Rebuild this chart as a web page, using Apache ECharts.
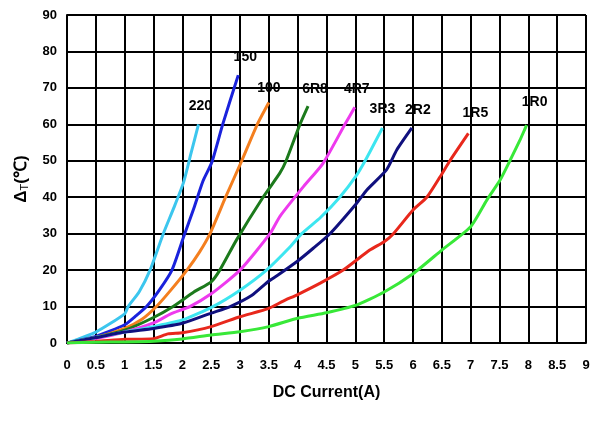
<!DOCTYPE html>
<html><head><meta charset="utf-8">
<script src="https://cdn.jsdelivr.net/npm/echarts@6/dist/echarts.min.js"></script>
<style>html,body{margin:0;padding:0;background:#fff}#c{width:598px;height:425px}</style>
</head><body><div id="c"></div>
<script>
const seriesNames = ['220','150','100','6R8','4R7','3R3','2R2','1R5','1R0'];
const s220 = [[0,0],[0.5,3],[1,8],[1.06,10],[1.25,14],[1.44,20],[1.67,30],[1.85,37],[2.02,44],[2.15,52],[2.28,60]];
const s150 = [[0,0],[0.5,1.8],[1,5],[1.2,7.5],[1.38,10],[1.6,14.5],[1.82,20],[2.02,29],[2.2,37],[2.36,44.5],[2.51,49.5],[2.7,60],[2.97,73.5]];
const s100 = [[0,0],[0.5,1.5],[1,4],[1.3,6.5],[1.55,10],[1.8,14.5],[2.08,20],[2.3,25],[2.48,30],[2.75,40],[3.03,50],[3.3,60],[3.5,66]];
const s6R8 = [[0,0],[0.5,1.5],[1,3.5],[1.5,7],[1.84,10],[2.2,14],[2.5,16.8],[2.65,20],[2.94,28.3],[3.4,40],[3.69,46.6],[3.8,50],[4.04,60],[4.18,65]];
const s4R7 = [[0,0],[0.5,1.2],[1,3],[1.5,5.5],[1.8,8],[2.13,10],[2.5,13.5],[3.0,20],[3.52,30],[3.69,34.7],[4.1,42.9],[4.44,49.3],[4.82,60],[4.99,64.7]];
const s3R3 = [[0,0],[0.5,1.5],[1,3],[1.5,4.5],[2,6.3],[2.53,10],[3,14.5],[3.46,20],[3.87,26.4],[4.07,30],[4.4,34.5],[4.73,40],[5.02,46],[5.17,50],[5.47,59]];
const s2R2 = [[0,0],[0.5,1.5],[1,3],[1.5,4],[2,5.4],[2.5,8.2],[2.83,10],[3.2,13],[3.5,17],[3.69,19],[4,22.5],[4.27,26],[4.56,30],[5.02,38.3],[5.2,42],[5.54,47.5],[5.72,53],[5.98,59]];
const s1R5 = [[0,0],[0.5,0.4],[1,1],[1.5,1.2],[1.75,2.5],[2,2.8],[2.5,4.5],[3,7.2],[3.5,9.5],[3.75,11.5],[4,13.3],[4.4,16.5],[4.79,20],[5.25,25.5],[5.5,27.8],[5.66,30],[6,36.5],[6.24,40],[6.47,45.6],[6.64,50],[6.96,57.5]];
const s1R0 = [[0,0],[0.5,0.2],[1,0.3],[1.5,0.5],[2,1.1],[2.5,2.2],[3,3.1],[3.5,4.5],[4,6.8],[4.5,8.3],[5,10.3],[5.5,14],[6,19],[6.5,25.5],[7,31.9],[7.28,39.2],[7.51,44.7],[7.68,50],[7.85,55.5],[7.97,59.8]];
const seriesData = [s220,s150,s100,s6R8,s4R7,s3R3,s2R2,s1R5,s1R0];

const colors = ['#3cc6ee','#1a22dc','#f47f1f','#1c7a1c','#ee3aee','#3de6f0','#10107e','#e8281c','#38e838'];
const labelOffsets = [[2,-18],[7,-18],[0,-14],[7,-17],[2,-18],[0,-19],[6,-18],[7,-20],[8,-23]];
const font = '"Liberation Sans", Arial, sans-serif';

const chart = echarts.init(document.getElementById('c'));
chart.setOption({
  animation: false,
  backgroundColor: '#fff',
  grid: {left: 67, right: 12, top: 15, bottom: 82, outerBoundsMode: 'none', containLabel: false},
  xAxis: {
    type: 'value', min: 0, max: 9, interval: 0.5,
    name: 'DC Current(A)', nameLocation: 'middle', nameGap: 42,
    nameTextStyle: {fontFamily: font, fontWeight: 'bold', fontSize: 16, color: '#000'},
    axisLine: {lineStyle: {color: '#000', width: 2}},
    axisTick: {show: false},
    axisLabel: {fontFamily: font, fontWeight: 'bold', fontSize: 13, color: '#000', margin: 16},
    splitLine: {show: true, lineStyle: {color: '#000', width: 2}}
  },
  yAxis: {
    type: 'value', min: 0, max: 90, interval: 10,
    name: '{a|Δ}{b|T}{a|(℃)}', nameLocation: 'middle', nameGap: 37, nameRotate: 90,
    nameTextStyle: {
      fontFamily: font, fontWeight: 'bold', fontSize: 17, color: '#000',
      rich: {
        a: {fontFamily: font, fontWeight: 'bold', fontSize: 17, color: '#000'},
        b: {fontFamily: font, fontWeight: 'normal', fontSize: 11, color: '#000', verticalAlign: 'bottom'}
      }
    },
    axisLine: {lineStyle: {color: '#000', width: 2}},
    axisTick: {show: false},
    axisLabel: {fontFamily: font, fontWeight: 'bold', fontSize: 13, color: '#000', margin: 10},
    splitLine: {show: true, lineStyle: {color: '#000', width: 2}}
  },
  series: seriesNames.map((n, i) => ({
    name: n, type: 'line', data: seriesData[i], showSymbol: false, symbol: 'none',
    smooth: 0.2,
    lineStyle: {color: colors[i], width: 3},
    endLabel: {
      show: true, formatter: n, position: 'top', distance: 0,
      align: 'center', verticalAlign: 'middle', offset: labelOffsets[i],
      fontFamily: font, fontWeight: 'bold', fontSize: 14, color: '#000'
    }
  }))
});
</script></body></html>
